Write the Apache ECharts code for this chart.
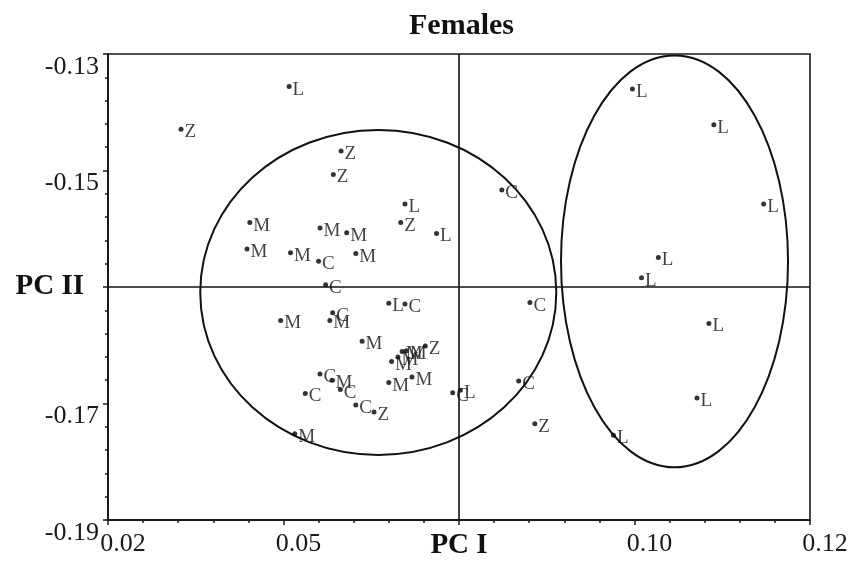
<!DOCTYPE html>
<html>
<head>
<meta charset="utf-8">
<script src="https://cdn.jsdelivr.net/npm/echarts@6/dist/echarts.min.js"></script>
<style>
  html, body { margin: 0; padding: 0; background: #fff; }
  #chart { width: 853px; height: 578px; }
</style>
</head>
<body>
<div id="chart"></div>
<script>
// PC I / PC II scores of each female specimen, and its group letter
const pc1 = [0.0458, 0.0304, 0.0532, 0.0521, 0.0623, 0.0617, 0.0668, 0.0402, 0.0502, 0.0540,
  0.0398, 0.0460, 0.0500, 0.0553, 0.0510, 0.0600, 0.0623, 0.0446, 0.0520, 0.0516,
  0.0562, 0.0652, 0.0625, 0.0619, 0.0613, 0.0604, 0.0600, 0.0633, 0.0502, 0.0519,
  0.0531, 0.0481, 0.0553, 0.0579, 0.0466, 0.0691, 0.0702, 0.0761, 0.0801, 0.0785,
  0.0808, 0.0947, 0.1063, 0.1134, 0.0984, 0.0960, 0.1056, 0.1039, 0.0920]
const pc2 = [-0.1342, -0.1397, -0.1425, -0.1455, -0.1493, -0.1517, -0.1531, -0.1517, -0.1524, -0.1530,
  -0.1551, -0.1556, -0.1567, -0.1557, -0.1597, -0.1621, -0.1622, -0.1643, -0.1633, -0.1643,
  -0.1670, -0.1676, -0.1682, -0.1683, -0.1690, -0.1696, -0.1723, -0.1716, -0.1712, -0.1720,
  -0.1732, -0.1737, -0.1752, -0.1761, -0.1789, -0.1736, -0.1733, -0.1475, -0.1620, -0.1721,
  -0.1776, -0.1345, -0.1391, -0.1493, -0.1562, -0.1588, -0.1647, -0.1743, -0.1791]
const groups = ['L', 'Z', 'Z', 'Z', 'L', 'Z', 'L', 'M', 'M', 'M',
  'M', 'M', 'C', 'M', 'C', 'L', 'C', 'M', 'C', 'M',
  'M', 'Z', 'M', 'M', 'M', 'M', 'M', 'M', 'C', 'M',
  'C', 'C', 'C', 'Z', 'M', 'C', 'L', 'C', 'C', 'C',
  'Z', 'L', 'L', 'L', 'L', 'L', 'L', 'L', 'L']

// the two grouping ellipses (centre and half axes, in data units)
const ellipseCx = [0.0585, 0.1007]
const ellipseCy = [-0.1607, -0.1567]
const ellipseRx = [0.02536, 0.01617]
const ellipseRy = [0.02092, 0.02652]

const xTicks = ['0.02', '0.05', 'PC I', '0.10', '0.12']
const yTicks = ['-0.19', '-0.17', 'PC II', '-0.15', '-0.13']

// axes run from 0, shifted by these origins, so the ticks fall on quarter steps
const X0 = 0.02, Y0 = -0.19
const XSTEP = 0.025, YSTEP = 0.015

const serif = 'Liberation Serif, Times New Roman, serif'

const points = pc1.map((v, i) => [v - X0, pc2[i] - Y0, groups[i]])
const ellipses = ellipseCx.map((v, i) => [v - X0, ellipseCy[i] - Y0, ellipseRx[i], ellipseRy[i]])

const chart = echarts.init(document.getElementById('chart'))
chart.setOption({
  backgroundColor: '#fff',
  animation: false,
  title: {
    text: 'Females',
    left: 404,
    top: 6,
    textStyle: { fontFamily: serif, fontWeight: 'bold', fontSize: 30, color: '#111' }
  },
  grid: {
    left: 108, right: 43, top: 54, bottom: 58,
    show: true, borderColor: '#1a1a1a', borderWidth: 1.6, backgroundColor: 'transparent'
  },
  xAxis: {
    type: 'value',
    min: 0, max: 0.1, interval: XSTEP,
    axisLine: { lineStyle: { color: '#1a1a1a', width: 2 } },
    axisTick: { length: 5, lineStyle: { color: '#1a1a1a', width: 1.5 } },
    minorTick: { show: true, splitNumber: 5, length: 3, lineStyle: { color: '#1a1a1a', width: 1.5 } },
    splitLine: { show: false },
    axisLabel: {
      margin: 11,
      formatter: v => {
        const t = xTicks[Math.round(v / XSTEP)]
        return t === 'PC I' ? '{b|' + t + '}' : '{n|' + t + '}'
      },
      rich: {
        n: { fontFamily: serif, fontSize: 26, color: '#1a1a1a', padding: [0, 0, 0, 30] },
        b: { fontFamily: serif, fontSize: 29, fontWeight: 'bold', color: '#111' }
      }
    }
  },
  yAxis: {
    type: 'value',
    min: 0, max: 0.06, interval: YSTEP,
    axisLine: { lineStyle: { color: '#1a1a1a', width: 2 } },
    axisTick: { length: 5, lineStyle: { color: '#1a1a1a', width: 1.5 } },
    minorTick: { show: true, splitNumber: 5, length: 3, lineStyle: { color: '#1a1a1a', width: 1.5 } },
    splitLine: { show: false },
    axisLabel: {
      margin: 9,
      formatter: v => {
        const t = yTicks[Math.round(v / YSTEP)]
        return t === 'PC II' ? '{b|' + t + '}' : '{n|' + t + '}'
      },
      rich: {
        n: { fontFamily: serif, fontSize: 26, color: '#1a1a1a', padding: [26, 0, 0, 0] },
        b: { fontFamily: serif, fontSize: 29, fontWeight: 'bold', color: '#111', padding: [0, 15, 0, 0] }
      }
    }
  },
  series: [
    {
      type: 'custom',
      silent: true,
      data: ellipses,
      renderItem: (params, api) => {
        const c = api.coord([api.value(0), api.value(1)])
        const s = api.size([api.value(2), api.value(3)])
        return {
          type: 'ellipse',
          shape: { cx: c[0], cy: c[1], rx: s[0], ry: s[1] },
          style: { fill: null, stroke: '#111', lineWidth: 2 }
        }
      }
    },
    {
      type: 'scatter',
      data: points,
      symbolSize: 5,
      itemStyle: { color: '#000' },
      label: {
        show: true,
        position: 'right',
        distance: 1,
        offset: [0, 3],
        formatter: p => p.value[2],
        fontFamily: serif,
        fontSize: 19,
        color: '#111'
      },
      markLine: {
        silent: true,
        symbol: 'none',
        label: { show: false },
        lineStyle: { color: '#111', width: 1.6, type: 'solid' },
        data: [{ xAxis: 0.07 - X0 }, { yAxis: -0.16 - Y0 }]
      }
    }
  ]
})
</script>
</body>
</html>
